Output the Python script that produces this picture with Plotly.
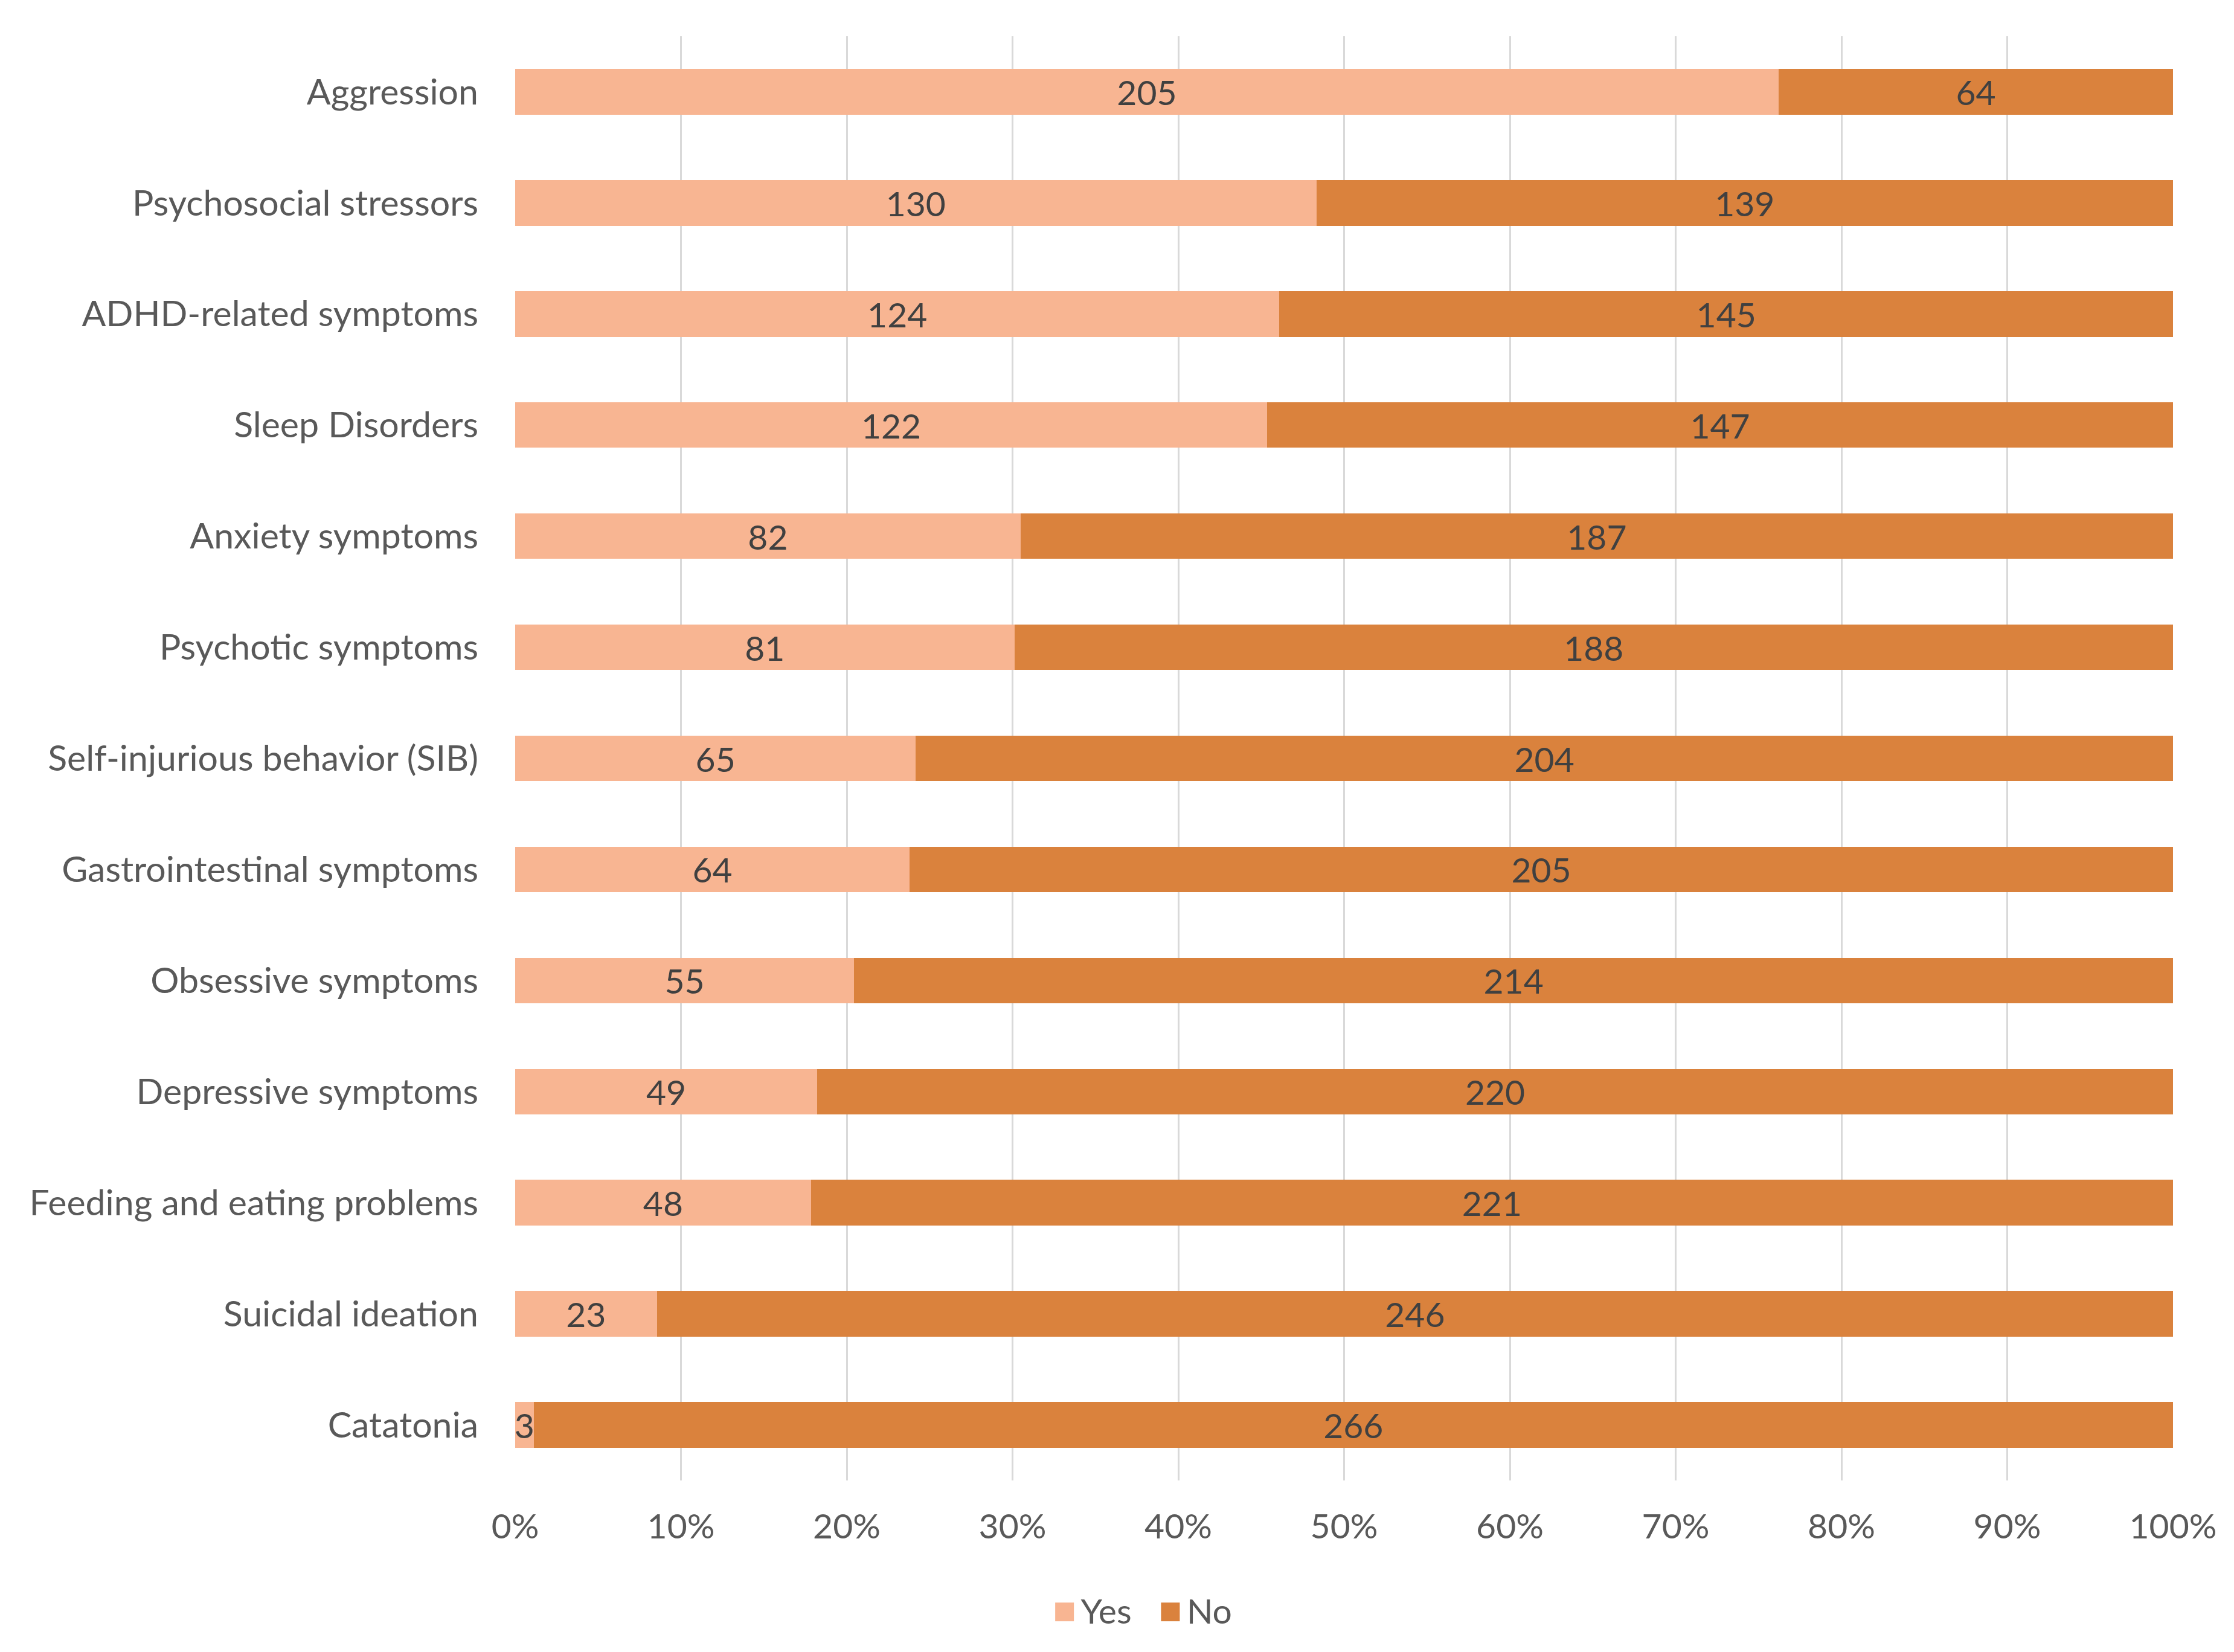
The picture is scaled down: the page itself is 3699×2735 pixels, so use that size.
import plotly.graph_objects as go

categories = ["Aggression", "Psychosocial stressors", "ADHD-related symptoms", "Sleep Disorders",
              "Anxiety symptoms", "Psychotic symptoms", "Self-injurious behavior (SIB)",
              "Gastrointestinal symptoms", "Obsessive symptoms", "Depressive symptoms",
              "Feeding and eating problems", "Suicidal ideation", "Catatonia"]
yes_counts = [205, 130, 124, 122, 82, 81, 65, 64, 55, 49, 48, 23, 3]
no_counts = [64, 139, 145, 147, 187, 188, 204, 205, 214, 220, 221, 246, 266]
series_names = ["Yes", "No"]
tick_vals = [0, 10, 20, 30, 40, 50, 60, 70, 80, 90, 100]
tick_text = ["0%", "10%", "20%", "30%", "40%", "50%", "60%", "70%", "80%", "90%", "100%"]

FONT = "Lato"
LABEL_SIZE = 57
CAT_SIZE = 59
TEXT_COLOR = "#404040"
AXIS_COLOR = "#595959"
YES_COLOR = "#F8B592"
NO_COLOR = "#DA823D"

fig = go.Figure()
for name, vals, color in [(series_names[0], yes_counts, YES_COLOR), (series_names[1], no_counts, NO_COLOR)]:
    fig.add_trace(go.Bar(
        y=categories, x=vals, name=name, orientation="h", showlegend=False,
        marker=dict(color=color, line=dict(width=0)),
        text=[str(v) for v in vals], textposition="inside", insidetextanchor="middle",
        constraintext="none", cliponaxis=False,
        textfont=dict(family=FONT, size=LABEL_SIZE, color=TEXT_COLOR),
    ))
    # legend entry: coloured square glyph + series name
    fig.add_trace(go.Scatter(
        x=[None], y=[None], mode="markers", showlegend=True,
        name=f"<span style='color:{color};font-size:64px'>\u25A0</span><span style='font-size:30px'> </span>{name}",
        marker=dict(symbol="square", size=1, color="rgba(0,0,0,0)"),
    ))

fig.update_layout(
    width=3699, height=2735,
    barmode="stack", barnorm="percent", bargap=0.59,
    uniformtext=dict(mode="show", minsize=LABEL_SIZE),
    plot_bgcolor="white", paper_bgcolor="white",
    margin=dict(l=845, r=109, t=52, b=292),
    font=dict(family=FONT, size=LABEL_SIZE, color=AXIS_COLOR),
    legend=dict(orientation="h", x=0.372, xanchor="center", y=-0.090, yanchor="middle",
                font=dict(family=FONT, size=LABEL_SIZE, color=AXIS_COLOR),
                itemwidth=30, traceorder="normal", tracegroupgap=0),
    showlegend=True,
)
fig.update_xaxes(range=[0, 100], tickvals=tick_vals, ticktext=tick_text,
                 showgrid=True, gridcolor="#D9D9D9", gridwidth=3, zeroline=False,
                 showline=False, ticks="", ticklabelstandoff=38,
                 tickfont=dict(family=FONT, size=LABEL_SIZE, color=AXIS_COLOR))
fig.update_yaxes(autorange="reversed", showgrid=False, showline=False, ticks="",
                 ticklabelstandoff=60,
                 tickfont=dict(family=FONT, size=CAT_SIZE, color=AXIS_COLOR))

fig.write_html("out.html")
